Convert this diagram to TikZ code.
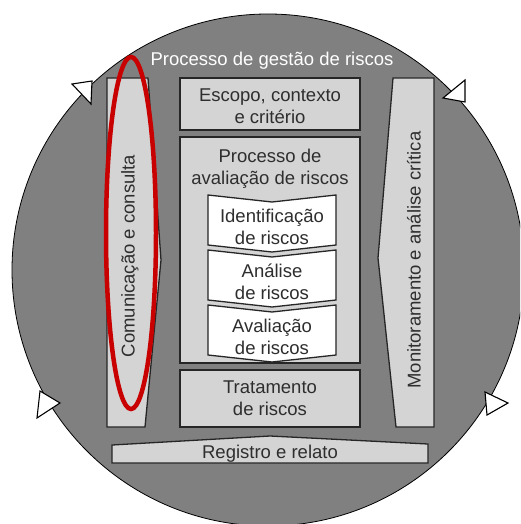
\documentclass[tikz,border=0pt]{standalone}
\usepackage{fontspec}
\setmainfont{Liberation Sans}
\definecolor{circgray}{HTML}{808080}
\definecolor{boxgray}{HTML}{D4D4D4}
\definecolor{edgegray}{HTML}{262626}
\definecolor{txtgray}{HTML}{2E2E2E}
\definecolor{redline}{HTML}{C80000}
\begin{document}
\begin{tikzpicture}[x=1pt,y=-1pt,
  txt/.style={font=\fontsize{18.5}{22.5}\selectfont, text=txtgray, align=center, inner sep=0pt},
  box/.style={draw=edgegray, line width=1.3pt, fill=boxgray, line join=miter},
  chev/.style={draw=edgegray, line width=1.3pt, fill=white, line join=miter},
  tri/.style={draw=black, fill=white, line width=1.1pt, line join=miter}]
\useasboundingbox (0,0) rectangle (520,524);
\clip (0,0) rectangle (520,524);
% main circle
\filldraw[fill=circgray, draw=black, line width=0.8pt] (268,270) circle[radius=256pt];
% arrowheads on the circle
\draw[tri] (72,84) -- (92,81) -- (91,104) -- cycle;
\draw[tri] (465,80) -- (465,102) -- (443,98) -- cycle;
\draw[tri] (40,391) -- (37,418) -- (60,403) -- cycle;
\draw[tri] (485,392) -- (487,415) -- (508,403) -- cycle;
% boxes
\draw[box] (180,78) rectangle (360,130);
\draw[box] (180,137) rectangle (360,363);
\draw[box] (180,370) rectangle (360,427);
\draw[box] (107,78) -- (148,78) -- (161,260) -- (145,427) -- (107,427) -- cycle;
\draw[box] (393,78) -- (434,78) -- (434,427) -- (396,427) -- (378,258) -- cycle;
\draw[box] (112,445) -- (270,436) -- (428,444) -- (428,463) -- (112,463) -- cycle;
% chevrons
\foreach \t in {195,250,305}{
  \draw[chev] (208,\t) -- (272,\t+7) -- (336,\t) -- (336,\t+50) -- (272,\t+57) -- (208,\t+50) -- cycle;
}
% texts
\node[txt, text=white] (title) at (272,61) {Processo de gestão de riscos};
\node[txt] (escopo) at (270,106) {Escopo, contexto\\e critério};
\node[txt] (proc) at (270,169) {Processo de\\avaliação de riscos};
\node[txt] (ident) at (272,227) {Identificação\\de riscos};
\node[txt] (anal) at (272,282) {Análise\\de riscos};
\node[txt] (aval) at (272,337) {Avaliação\\de riscos};
\node[txt] (trat) at (270,398) {Tratamento\\de riscos};
\node[txt] (reg) at (270,454) {Registro e relato};
\node[txt, rotate=90] (com) at (130,256) {Comunicação e consulta};
\node[txt, rotate=90] (mon) at (414,260) {Monitoramento e análise crítica};
% red highlight
\draw[redline, line width=4.5pt] (131,233) ellipse[x radius=25pt, y radius=176pt];
\end{tikzpicture}
\end{document}
